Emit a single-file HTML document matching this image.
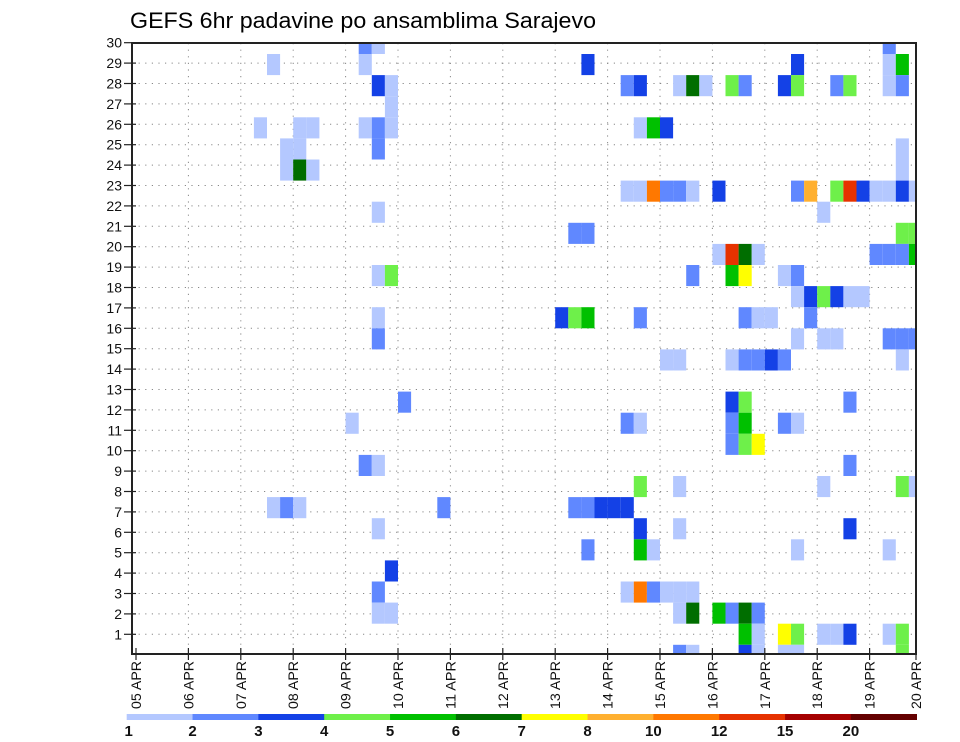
<!DOCTYPE html>
<html><head><meta charset="utf-8"><style>
html,body{margin:0;padding:0;background:#fff;}
svg{display:block;font-family:"Liberation Sans",sans-serif;}
</style></head><body>
<svg id="chart" width="960" height="742" viewBox="0 0 960 742">
<text x="130" y="28" font-size="22" textLength="466" lengthAdjust="spacingAndGlyphs">GEFS 6hr padavine po ansamblima Sarajevo</text>
<defs><clipPath id="plotclip"><rect x="132" y="43" width="784" height="611"/></clipPath></defs>
<g id="grid"></g>
<g id="cells" clip-path="url(#plotclip)"></g>
<rect x="132" y="43" width="784" height="611" fill="none" stroke="#222" stroke-width="2"/>
<g id="yaxis"></g>
<g id="xaxis"></g>
<g id="legend"></g>
</svg>
<script>
// 6-hourly step index (0 = 05 APR 00Z), ensemble member, precipitation mm
const steps = [17,18,57, 10,17,34,50,57,58, 18,19,37,38,41,42,43,45,46,49,50,53,54,57,58, 19, 9,12,13,17,18,19,38,39,40, 11,12,18,58, 11,12,13,58, 37,38,39,40,41,42,44,50,51,53,54,55,56,57,58,59, 18,52, 33,34,58,59, 44,45,46,47,56,57,58,59, 18,19,42,45,46,49,50, 50,51,52,53,54,55, 18,32,33,34,38,46,47,48,51, 18,50,52,53,57,58,59, 40,41,45,46,47,48,49,58, 20,45,46,54, 16,37,38,45,46,49,50, 45,46,47, 17,18,54, 38,41,52,58,59, 10,11,12,23,33,34,35,36,37, 18,38,41,54, 34,38,39,50,57, 19, 18,37,38,39,40,41,42, 18,19,41,42,44,45,46,47, 46,47,49,50,52,53,54,57,58, 41,42,46,47,49,50,58];
const members = [30,30,30, 29,29,29,29,29,29, 28,28,28,28,28,28,28,28,28,28,28,28,28,28,28, 27, 26,26,26,26,26,26,26,26,26, 25,25,25,25, 24,24,24,24, 23,23,23,23,23,23,23,23,23,23,23,23,23,23,23,23, 22,22, 21,21,21,21, 20,20,20,20,20,20,20,20, 19,19,19,19,19,19,19, 18,18,18,18,18,18, 17,17,17,17,17,17,17,17,17, 16,16,16,16,16,16,16, 15,15,15,15,15,15,15,15, 13,13,13,13, 12,12,12,12,12,12,12, 11,11,11, 10,10,10, 9,9,9,9,9, 8,8,8,8,8,8,8,8,8, 7,7,7,7, 6,6,6,6,6, 5, 4,4,4,4,4,4,4, 3,3,3,3,3,3,3,3, 2,2,2,2,2,2,2,2,2, 1,1,1,1,1,1,1];
const precip = [2.5,1.5,2.5, 1.5,1.5,3.5,3.5,1.5,5.5, 3.5,1.5,2.5,3.5,1.5,6.5,1.5,4.5,2.5,3.5,4.5,2.5,4.5,1.5,2.5, 1.5, 1.5,1.5,1.5,1.5,2.5,1.5,1.5,5.5,3.5, 1.5,1.5,2.5,1.5, 1.5,6.5,1.5,1.5, 1.5,1.5,11,2.5,2.5,1.5,3.5,2.5,9,4.5,13,3.5,1.5,1.5,3.5,1.5, 1.5,1.5, 2.5,2.5,4.5,4.5, 1.5,13,6.5,1.5,2.5,2.5,2.5,5.5, 1.5,4.5,2.5,5.5,7.5,1.5,2.5, 1.5,3.5,4.5,3.5,1.5,1.5, 1.5,3.5,4.5,5.5,2.5,2.5,1.5,1.5,2.5, 2.5,1.5,1.5,1.5,2.5,2.5,2.5, 1.5,1.5,1.5,2.5,2.5,3.5,2.5,1.5, 2.5,3.5,4.5,2.5, 1.5,2.5,1.5,2.5,5.5,2.5,1.5, 2.5,4.5,7.5, 2.5,1.5,2.5, 4.5,1.5,1.5,4.5,1.5, 1.5,2.5,1.5,2.5,2.5,2.5,3.5,3.5,3.5, 1.5,3.5,1.5,3.5, 2.5,5.5,1.5,1.5,1.5, 3.5, 2.5,1.5,11,2.5,1.5,1.5,1.5, 1.5,1.5,1.5,6.5,5.5,2.5,6.5,2.5, 5.5,1.5,7.5,4.5,1.5,1.5,3.5,1.5,4.5, 2.5,1.5,3.5,1.5,1.5,1.5,4.5];
const levels = [1,2,3,4,5,6,7,8,10,12,15,20];
const colors = ["#b4c8ff","#6088ff","#1441e6","#6ef04a","#00c000","#006e00","#ffff00","#ffb030","#ff7800","#e63200","#a50000","#640000"];
const dayLabels = ["05 APR","06 APR","07 APR","08 APR","09 APR","10 APR","11 APR","12 APR","13 APR","14 APR","15 APR","16 APR","17 APR","18 APR","19 APR","20 APR"];
const yTicks = [1,2,3,4,5,6,7,8,9,10,11,12,13,14,15,16,17,18,19,20,21,22,23,24,25,26,27,28,29,30];

const NS="http://www.w3.org/2000/svg";
function mk(tag,attrs,parent){const e=document.createElementNS(NS,tag);for(const k in attrs)e.setAttribute(k,attrs[k]);parent.appendChild(e);return e;}
const xStep = s => 136 + 13.1*s;
const cellTop = m => 54 + (29-m)*21.1;
const yTick = r => 634.3 - (r-1)*20.4;
const xDay = d => d===15 ? 916 : 136 + 52.4*d;
function colorFor(v){let k=0;for(let i=0;i<levels.length;i++){if(v>=levels[i])k=i;}return colors[k];}

const grid=document.getElementById('grid');
yTicks.forEach(r=>{
  const l=mk('line',{x1:132,x2:916,y1:yTick(r),y2:yTick(r),stroke:'#888','stroke-width':1,'stroke-dasharray':'1.2 5.4'},grid);
  
  
});
for(let d=1;d<15;d++){
  const l=mk('line',{x1:xDay(d),x2:xDay(d),y1:43,y2:654,stroke:'#888','stroke-width':1,'stroke-dasharray':'1.2 5.4'},grid);
  
  
}

const cg=document.getElementById('cells');
for(let i=0;i<steps.length;i++){
  const r=mk('rect',{x:xStep(steps[i]),y:cellTop(members[i]),width:13.1,height:21.1,fill:colorFor(precip[i])},cg);
  
  
}

const ya=document.getElementById('yaxis');
yTicks.forEach(r=>{
  const t=mk('line',{x1:124,x2:136,y1:yTick(r),y2:yTick(r),stroke:'#222','stroke-width':1.2},ya);
  
  
  const tx=mk('text',{x:122,y:yTick(r)+5,'font-size':14,'text-anchor':'end',fill:'#111'},ya);
  
  
  tx.textContent=String(r);
});

const xa=document.getElementById('xaxis');
dayLabels.forEach((lab,d)=>{
  const x=xDay(d);
  const t=mk('line',{x1:x,x2:x,y1:648,y2:660,stroke:'#222','stroke-width':1.2},xa);
  
  
  const tx=mk('text',{x:0,y:0,'font-size':14,'text-anchor':'start',fill:'#111',transform:`translate(${x+5},${709}) rotate(-90)`,textLength:48,lengthAdjust:'spacingAndGlyphs'},xa);
  
  
  tx.textContent=lab;
});

const lg=document.getElementById('legend');
const segW=(916.7-126.7)/levels.length;
levels.forEach((lv,i)=>{
  const r=mk('rect',{x:126.7+segW*i,y:714,width:segW+0.3,height:6,fill:colors[i]},lg);
  
  
  const t=mk('text',{x:126.7+segW*i+(i===0?2:0),y:736,'font-size':15,'font-weight':'bold','text-anchor':'middle',fill:'#111'},lg);
  
  
  t.textContent=String(lv);
});
</script>
</body></html>
